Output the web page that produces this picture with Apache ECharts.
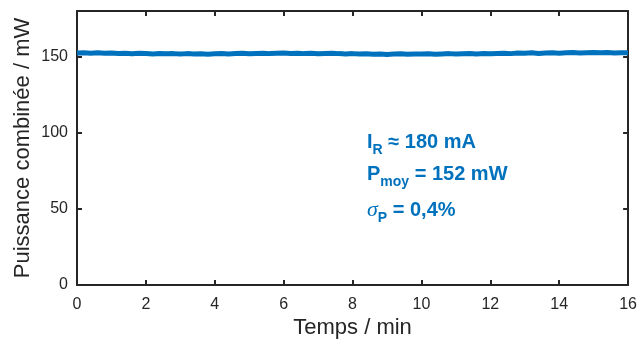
<!DOCTYPE html>
<html><head><meta charset="utf-8">
<script src="https://cdn.jsdelivr.net/npm/echarts@6/dist/echarts.min.js"></script>
<style>html,body{margin:0;padding:0;background:#fff}#c{width:640px;height:344px}</style>
</head><body><div id="c"></div>
<script>
// Time (min)
const timeMin = [0,0.2,0.4,0.6,0.8,1,1.2,1.4,1.6,1.8,2,2.2,2.4,2.6,2.8,3,3.2,3.4,3.6,3.8,4,4.2,4.4,4.6,4.8,5,5.2,5.4,5.6,5.8,6,6.2,6.4,6.6,6.8,7,7.2,7.4,7.6,7.8,8,8.2,8.4,8.6,8.8,9,9.2,9.4,9.6,9.8,10,10.2,10.4,10.6,10.8,11,11.2,11.4,11.6,11.8,12,12.2,12.4,12.6,12.8,13,13.2,13.4,13.6,13.8,14,14.2,14.4,14.6,14.8,15,15.2,15.4,15.6,15.8,16];
// Combined power (mW)
const powerMW = [152.4,152.6,152.3,152.5,152.2,152.4,152.1,152.3,151.9,152.2,152.0,151.8,152.1,151.9,152.0,151.7,152.0,151.8,151.9,151.6,151.9,152.1,151.8,152.0,152.2,151.9,152.1,152.3,152.0,152.2,152.4,152.1,152.3,152.0,152.2,151.9,152.1,152.3,152.0,151.8,152.0,151.7,151.9,151.6,151.8,151.5,151.7,151.9,151.6,151.8,151.7,151.9,151.6,151.8,152.0,151.7,151.9,152.1,151.8,152.0,151.9,152.1,152.3,152.0,152.4,152.2,152.5,152.1,152.4,152.6,152.3,152.5,152.7,152.4,152.6,152.8,152.5,152.7,152.4,152.6,152.5];
const xTicks = [0,2,4,6,8,10,12,14,16];
const yTicks = [0,50,100,150];

const blue = '#0072BD';
const axisCol = '#262626';
const chart = echarts.init(document.getElementById('c'), null, {renderer:'canvas'});
const ff = 'Liberation Sans, Arial, sans-serif';
const labelFont = {color: axisCol, fontSize: 16, fontFamily: ff};
const lineStyle = {color: axisCol, width: 2};
const sub = {fontSize: 14, fontWeight: 'bold', fill: blue, fontFamily: ff, lineHeight: 30, verticalAlign: 'bottom'};
const main = {fontSize: 20, fontWeight: 'bold', fill: blue, fontFamily: ff, lineHeight: 30, verticalAlign: 'middle'};
chart.setOption({
  animation: false,
  grid: {left: 77, right: 9, top: 11, bottom: 58, containLabel: false},
  xAxis: [
    {type: 'value', min: 0, max: 16, interval: 2, position: 'bottom',
     name: 'Temps / min', nameLocation: 'middle', nameGap: 32, nameMoveOverlap: false,
     nameTextStyle: {color: axisCol, fontSize: 22, fontFamily: ff},
     axisLine: {show: true, onZero: false, lineStyle}, axisTick: {show: true, inside: true, length: 5, lineStyle},
     axisLabel: Object.assign({margin: 12, customValues: xTicks}, labelFont), splitLine: {show: false}},
    {type: 'value', min: 0, max: 16, interval: 2, position: 'top',
     axisLine: {show: true, onZero: false, lineStyle}, axisTick: {show: true, inside: true, length: 5, lineStyle},
     axisLabel: {show: false}, splitLine: {show: false}}
  ],
  yAxis: [
    {type: 'value', min: 0, max: 180, interval: 50, position: 'left',
     name: 'Puissance combinée / mW', nameLocation: 'middle', nameGap: 43, nameRotate: 90, nameMoveOverlap: false,
     nameTextStyle: {color: axisCol, fontSize: 22, fontFamily: ff},
     axisLine: {show: true, onZero: false, lineStyle}, axisTick: {show: true, inside: true, length: 5, lineStyle, customValues: yTicks},
     axisLabel: Object.assign({margin: 9, customValues: yTicks}, labelFont), splitLine: {show: false}},
    {type: 'value', min: 0, max: 180, interval: 50, position: 'right',
     axisLine: {show: true, onZero: false, lineStyle}, axisTick: {show: true, inside: true, length: 5, lineStyle, customValues: yTicks},
     axisLabel: {show: false}, splitLine: {show: false}}
  ],
  series: [{
    type: 'line', xAxisIndex: 0, yAxisIndex: 0,
    data: timeMin.map((t, i) => [t, powerMW[i]]),
    showSymbol: false, lineStyle: {color: blue, width: 5}, itemStyle: {color: blue}
  }],
  graphic: [
    {type: 'text', left: 367, top: 132, style: {
      text: '{a|I}{s|R}{a| ≈ 180 mA}', rich: {a: main, s: sub}}},
    {type: 'text', left: 367, top: 164, style: {
      text: '{a|P}{s|moy}{a| = 152 mW}', rich: {a: main, s: sub}}},
    {type: 'text', left: 367, top: 199, style: {
      text: '{g|σ}{s|P}{a| = 0,4%}',
      rich: {g: {fontSize: 22, fontStyle: 'italic', fill: blue, fontFamily: 'Liberation Serif, Times New Roman, serif', lineHeight: 30, verticalAlign: 'middle'},
             a: main, s: sub}}}
  ]
});
</script></body></html>
